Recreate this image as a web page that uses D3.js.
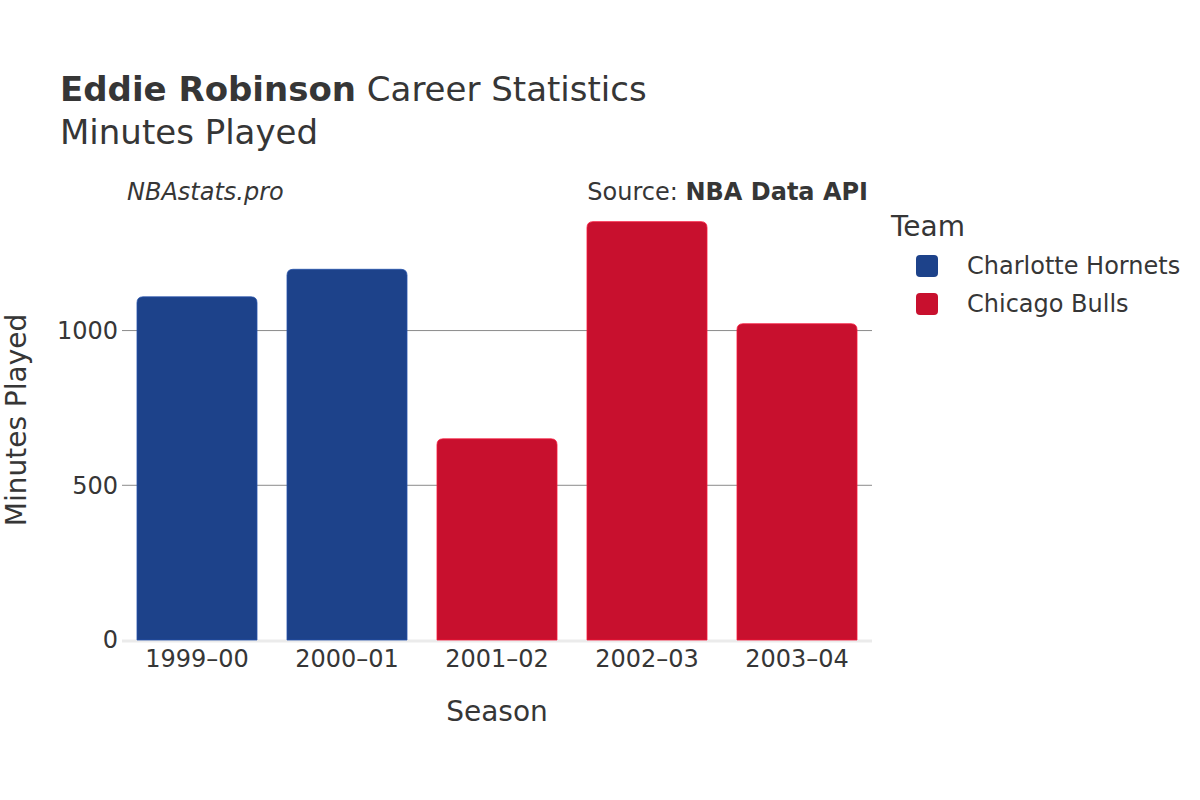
<!DOCTYPE html>
<html>
<head>
<meta charset="utf-8">
<script src="https://cdn.jsdelivr.net/npm/d3@7"></script>
<style>
  body { margin: 0; background: #fff; }
  text { font-family: "DejaVu Sans", Verdana, sans-serif; fill: #363636; }
</style>
</head>
<body>
<svg id="chart" width="1200" height="800"></svg>
<script>
const seasons = ["1999–00", "2000–01", "2001–02", "2002–03", "2003–04"];
const teams = ["Charlotte Hornets", "Charlotte Hornets", "Chicago Bulls", "Chicago Bulls", "Chicago Bulls"];
const minutes = [1109, 1198, 650, 1352, 1022];
const legendTeams = ["Charlotte Hornets", "Chicago Bulls"];
const teamColors = ["#1d428a", "#c8102e"];
const yTicks = [0, 500, 1000];

const svg = d3.select("#chart");
const margin = { left: 122, right: 872, top: 200, bottom: 640 };

const x = d3.scaleBand().domain(seasons).range([margin.left, margin.right]).paddingInner(0.2).paddingOuter(0.1);
const y = d3.scaleLinear().domain([0, 1422]).range([margin.bottom, margin.top]);
const color = d3.scaleOrdinal().domain(legendTeams).range(teamColors);

// Gridlines
svg.append("g").selectAll("line").data(yTicks.filter(d => d > 0)).join("line")
  .attr("x1", margin.left).attr("x2", margin.right)
  .attr("y1", d => y(d)).attr("y2", d => y(d))
  .attr("stroke", "#8a8a8a").attr("stroke-width", 1);

// Zero line
svg.append("line")
  .attr("x1", margin.left).attr("x2", margin.right)
  .attr("y1", y(0) + 1).attr("y2", y(0) + 1)
  .attr("stroke", "#ebebeb").attr("stroke-width", 3);

// Bars (rounded top corners)
const r = 6;
function barPath(d, i) {
  const x0 = x(seasons[i]), w = x.bandwidth();
  const yt = y(d), yb = y(0);
  return `M${x0},${yb} L${x0},${yt + r} Q${x0},${yt} ${x0 + r},${yt} L${x0 + w - r},${yt} Q${x0 + w},${yt} ${x0 + w},${yt + r} L${x0 + w},${yb} Z`;
}
svg.append("g").selectAll("path").data(minutes).join("path")
  .attr("d", (d, i) => barPath(d, i))
  .attr("fill", (d, i) => color(teams[i]))
  .attr("stroke", (d, i) => d3.color(color(teams[i])).brighter(0.6))
  .attr("stroke-width", 0.8);

// Y axis tick labels
svg.append("g").selectAll("text").data(yTicks).join("text")
  .attr("x", 118).attr("y", d => y(d)).attr("dy", "0.35em")
  .attr("text-anchor", "end").attr("font-size", 24)
  .text(d => d);

// X axis tick labels
svg.append("g").selectAll("text").data(seasons).join("text")
  .attr("x", d => x(d) + x.bandwidth() / 2).attr("y", 667)
  .attr("text-anchor", "middle").attr("font-size", 24)
  .text(d => d);

// Axis titles
svg.append("text").attr("x", 497).attr("y", 721).attr("text-anchor", "middle")
  .attr("font-size", 28).text("Season");
svg.append("text").attr("transform", "translate(26,420) rotate(-90)")
  .attr("text-anchor", "middle").attr("font-size", 28).text("Minutes Played");

// Title
const title = svg.append("text").attr("x", 60).attr("y", 101).attr("font-size", 34);
title.append("tspan").attr("font-weight", "bold").text("Eddie Robinson");
title.append("tspan").text(" Career Statistics");
svg.append("text").attr("x", 60).attr("y", 144).attr("font-size", 34).text("Minutes Played");

// Annotations
svg.append("text").attr("x", 127).attr("y", 200).attr("font-size", 24)
  .attr("font-style", "italic").text("NBAstats.pro");
const src = svg.append("text").attr("x", 868).attr("y", 200).attr("font-size", 24).attr("text-anchor", "end");
src.append("tspan").text("Source: ");
src.append("tspan").attr("font-weight", "bold").text("NBA Data API");

// Legend
svg.append("text").attr("x", 891).attr("y", 236).attr("font-size", 28).text("Team");
const lg = svg.append("g").selectAll("g").data(legendTeams).join("g")
  .attr("transform", (d, i) => `translate(916, ${255 + i * 38})`);
lg.append("rect").attr("width", 22).attr("height", 22).attr("rx", 4)
  .attr("fill", d => color(d));
lg.append("text").attr("x", 51).attr("y", 11).attr("dy", "0.35em")
  .attr("font-size", 24).text(d => d);
</script>
</body>
</html>
